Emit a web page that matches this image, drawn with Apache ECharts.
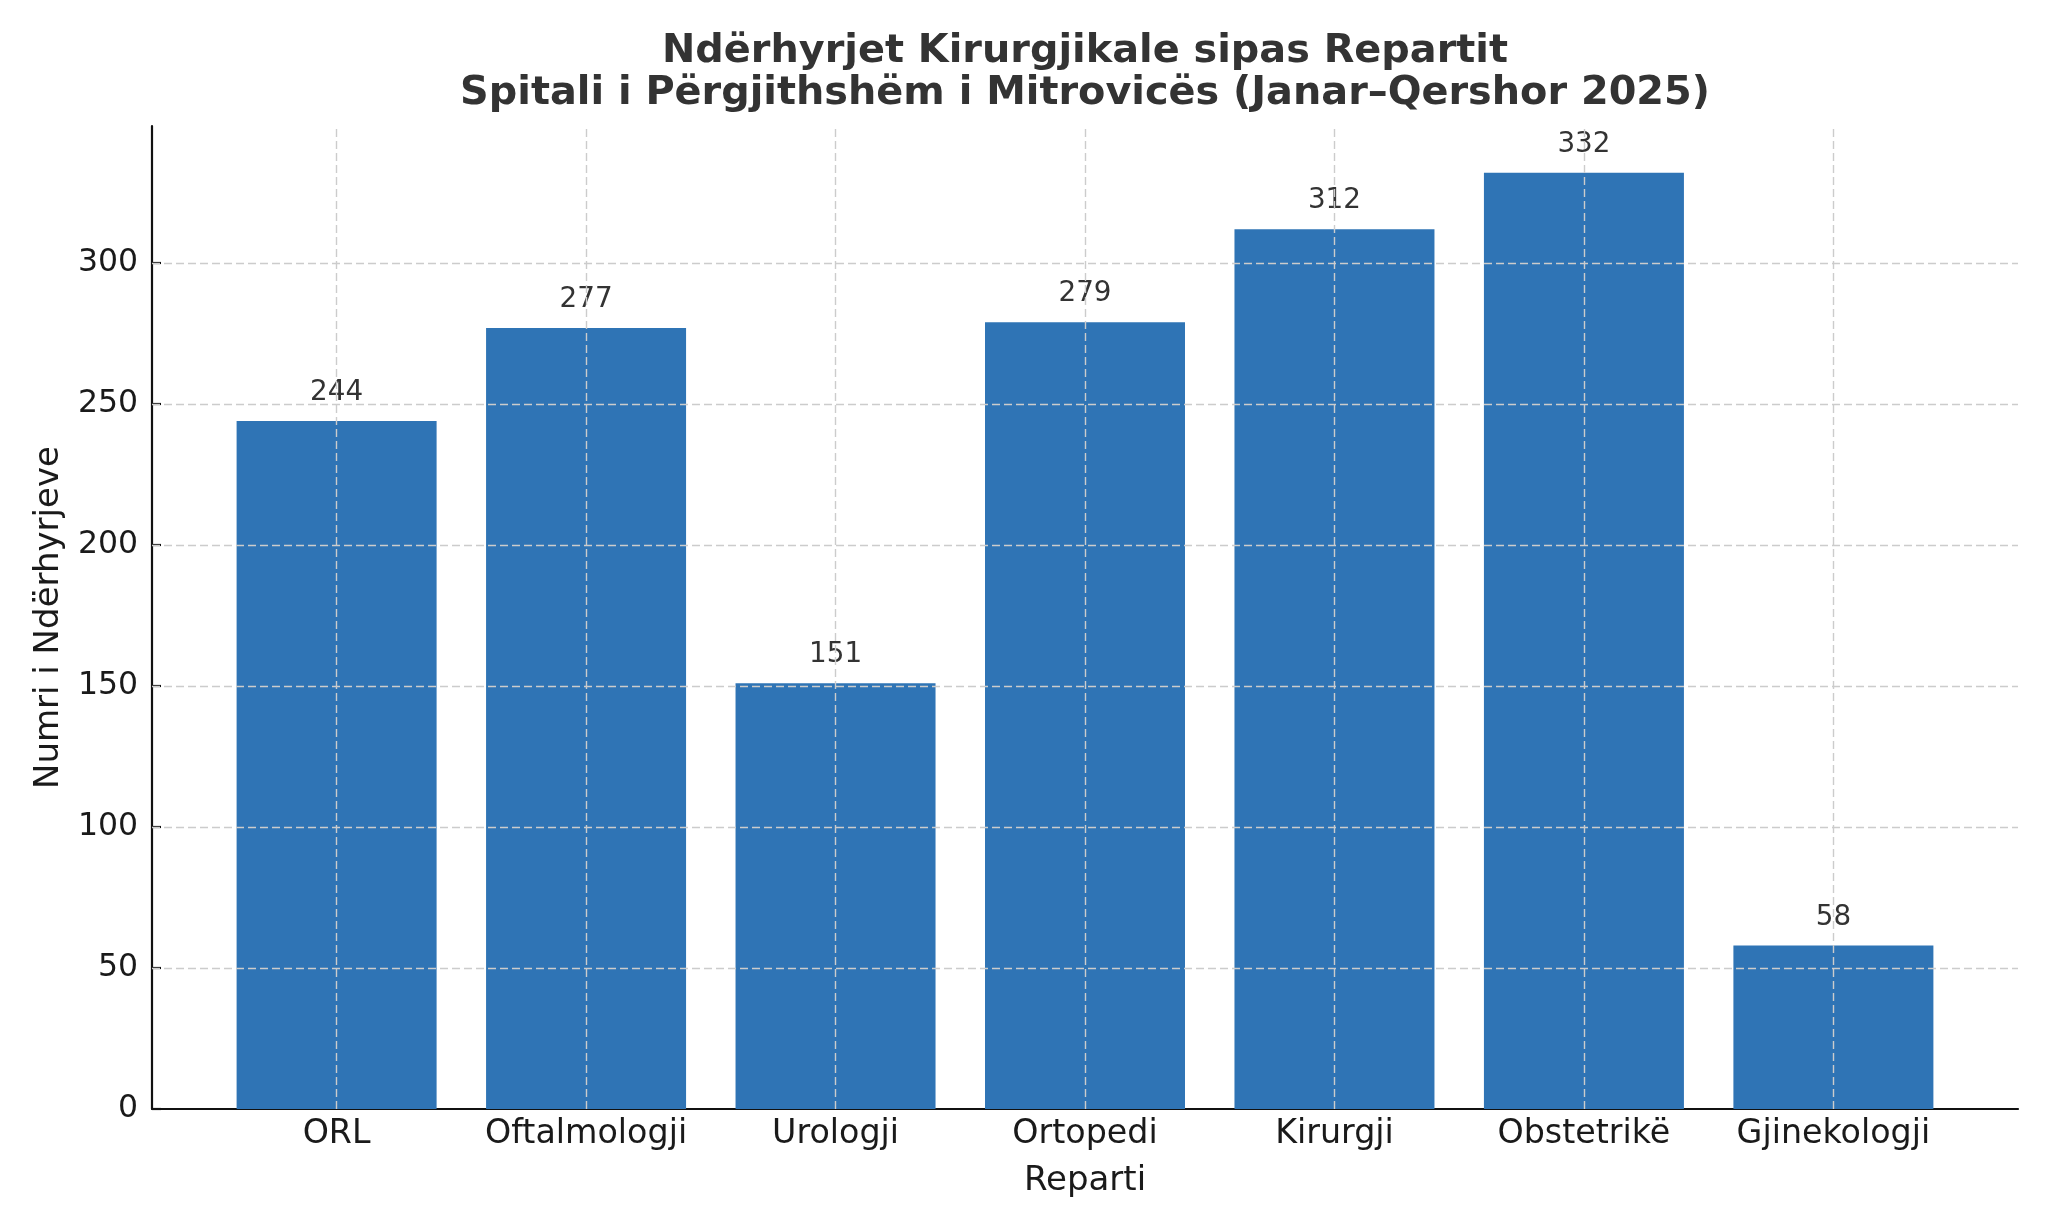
<!DOCTYPE html>
<html>
<head>
<meta charset="utf-8">
<script src="https://cdn.jsdelivr.net/npm/echarts@6/dist/echarts.min.js"></script>
<style>html,body{margin:0;padding:0;background:#fff}#c{width:2048px;height:1229px}</style>
</head>
<body>
<div id="c"></div>
<script>
const categories = ['ORL', 'Oftalmologji', 'Urologji', 'Ortopedi', 'Kirurgji', 'Obstetrikë', 'Gjinekologji'];
const values = [244, 277, 151, 279, 312, 332, 58];
const yTicks = [0, 50, 100, 150, 200, 250, 300];
const titleText = 'Ndërhyrjet Kirurgjikale sipas Repartit\nSpitali i Përgjithshëm i Mitrovicës (Janar–Qershor 2025)';
const xName = 'Reparti';
const yName = 'Numri i Ndërhyrjeve';

const FONT = 'DejaVu Sans';
const catIdx = categories.map((c, i) => i);
const gridStyle = { color: '#cccccc', type: [8, 4], width: 1.4 };

const chart = echarts.init(document.getElementById('c'), null, { renderer: 'canvas' });
chart.setOption({
  animation: false,
  backgroundColor: '#ffffff',
  title: {
    text: titleText,
    left: 1080,
    textAlign: 'center',
    top: 26,
    textStyle: { fontFamily: FONT, fontSize: 39.8, fontWeight: 'bold', color: '#333333', lineHeight: 42 }
  },
  grid: { left: 152, right: 30, top: 126, bottom: 120, containLabel: false },
  xAxis: {
    type: 'value',
    min: -0.74,
    max: 6.74,
    name: xName,
    nameLocation: 'middle',
    nameGap: 55,
    nameTextStyle: { fontFamily: FONT, fontSize: 34, color: '#1a1a1a' },
    axisLine: { show: true, onZero: false, lineStyle: { color: '#111', width: 2.2 } },
    axisTick: { show: true, inside: true, length: 9, customValues: catIdx, lineStyle: { color: '#111', width: 2.2 } },
    axisLabel: {
      customValues: catIdx,
      formatter: v => categories[Math.round(v)],
      fontFamily: FONT, fontSize: 33.3, color: '#1a1a1a', margin: 9
    },
    splitLine: { show: false }
  },
  yAxis: {
    type: 'value',
    min: 0,
    max: 348.6,
    name: yName,
    nameLocation: 'middle',
    nameGap: 86,
    nameTextStyle: { fontFamily: FONT, fontSize: 34, color: '#1a1a1a' },
    axisLine: { show: true, onZero: false, lineStyle: { color: '#111', width: 2.2 } },
    axisTick: { show: true, inside: true, length: 9, customValues: yTicks, lineStyle: { color: '#111', width: 2.2 } },
    axisLabel: {
      customValues: yTicks,
      fontFamily: FONT, fontSize: 31.5, color: '#1a1a1a', margin: 14
    },
    splitLine: { show: false }
  },
  series: [{
    type: 'bar',
    data: values.map((v, i) => [i, v]),
    barWidth: 200,
    itemStyle: { color: '#2f74b5' },
    label: {
      show: true,
      position: 'top',
      distance: 14,
      fontFamily: FONT, fontSize: 27.8, color: '#333333'
    },
    markLine: {
      silent: true,
      symbol: 'none',
      label: { show: false },
      lineStyle: gridStyle,
      data: yTicks.filter(v => v > 0).map(v => ({ yAxis: v }))
        .concat(catIdx.map(i => ({ xAxis: i })))
    },
    z: 2
  }]
});
</script>
</body>
</html>
